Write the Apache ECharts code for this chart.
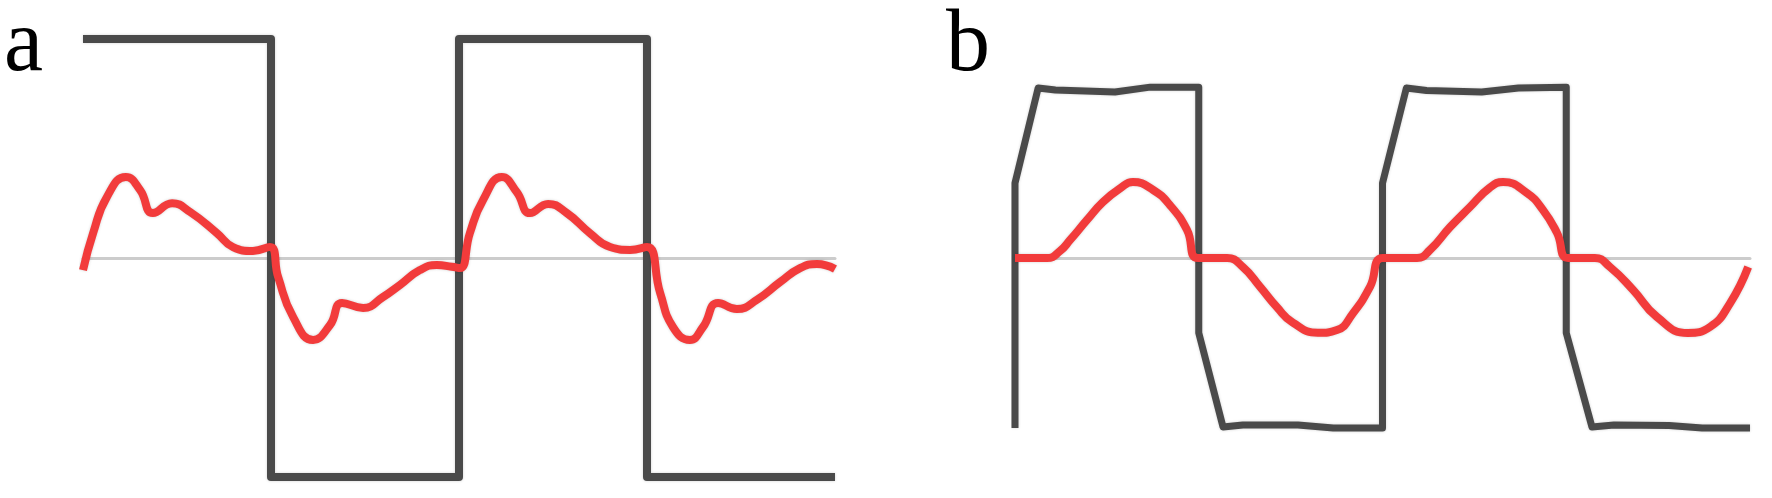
<!DOCTYPE html>
<html>
<head>
<meta charset="utf-8">
<script src="https://cdn.jsdelivr.net/npm/echarts@6/dist/echarts.min.js"></script>
<style>
  html, body { margin: 0; padding: 0; background: #fff; }
  #chart { width: 1772px; height: 498px; }
</style>
</head>
<body>
<div id="chart"></div>
<script>
  // 面板 a：方波电压（单位幅值）与红色响应曲线，x 以周期为单位
  var squareA = [[0, 1], [0.5, 1], [0.5, -1], [1, -1], [1, 1], [1.5, 1], [1.5, -1], [2, -1]];
  var responseA = [
    [0, -0.055], [0.027, 0.114], [0.064, 0.28], [0.114, 0.37], [0.152, 0.31],
    [0.186, 0.205], [0.237, 0.25], [0.285, 0.21], [0.356, 0.114], [0.399, 0.05],
    [0.452, 0.032], [0.497, 0.05], [0.519, -0.087], [0.559, -0.27], [0.612, -0.374],
    [0.657, -0.306], [0.689, -0.205], [0.745, -0.228], [0.798, -0.178], [0.843, -0.123],
    [0.896, -0.055], [0.941, -0.032], [0.981, -0.04], [1.003, -0.046], [1.029, 0.114],
    [1.064, 0.265], [1.114, 0.37], [1.154, 0.30], [1.189, 0.205], [1.237, 0.247],
    [1.287, 0.205], [1.348, 0.114], [1.402, 0.05], [1.455, 0.037], [1.5, 0.05],
    [1.535, -0.16], [1.569, -0.315], [1.614, -0.374], [1.649, -0.315], [1.689, -0.205],
    [1.739, -0.233], [1.793, -0.19], [1.854, -0.11], [1.907, -0.046], [1.952, -0.027],
    [2.0, -0.05]
  ];

  // 面板 b：带斜边的方波与延迟的正弦状响应
  var squareB = [
    [0, -1], [0, 0.44], [0.063, 1], [0.11, 0.988], [0.272, 0.976], [0.368, 1.005], [0.5, 1.005],
    [0.5, -0.44], [0.566, -0.994], [0.62, -0.982], [0.77, -0.982], [0.866, -1.0], [1.0, -1.0],
    [1.0, 0.44], [1.065, 1], [1.12, 0.985], [1.27, 0.976], [1.37, 1.0], [1.5, 1.005],
    [1.5, -0.44], [1.57, -0.994], [1.63, -0.982], [1.78, -0.985], [1.87, -1.0], [2.0, -1.0]
  ];
  var responseB = [
    [0, 0], [0.087, 0], [0.122, 0.04], [0.150, 0.106], [0.196, 0.224], [0.239, 0.329],
    [0.286, 0.41], [0.321, 0.447], [0.376, 0.40], [0.422, 0.31], [0.468, 0.165], [0.498, 0],
    [0.577, 0], [0.620, -0.053], [0.667, -0.17], [0.713, -0.29], [0.756, -0.38],
    [0.824, -0.44], [0.876, -0.424], [0.920, -0.324], [0.966, -0.17], [1.001, 0],
    [1.094, 0], [1.129, 0.047], [1.184, 0.182], [1.238, 0.30], [1.290, 0.41], [1.328, 0.447],
    [1.393, 0.382], [1.437, 0.282], [1.475, 0.147], [1.505, 0], [1.578, 0],
    [1.619, -0.053], [1.682, -0.188], [1.747, -0.347], [1.831, -0.441], [1.891, -0.406],
    [1.946, -0.265], [1.995, -0.053]
  ];

  var chart = echarts.init(document.getElementById('chart'));

  function xAxisOf(idx) {
    return {
      type: 'value', gridIndex: idx, min: 0, max: 2,
      axisLine: { show: true, onZero: true, lineStyle: { color: '#cccccc', width: 3 } },
      axisTick: { show: false }, axisLabel: { show: false }, splitLine: { show: false }
    };
  }
  function yAxisOf(idx) {
    return { type: 'value', gridIndex: idx, min: -1, max: 1, show: false, splitLine: { show: false } };
  }
  function lineOf(idx, data, color, width, smooth, z) {
    return {
      type: 'line', xAxisIndex: idx, yAxisIndex: idx, data: data,
      showSymbol: false, smooth: smooth, smoothMonotone: 'none', clip: false, z: z,
      lineStyle: {
        color: color, width: width, join: 'round', cap: 'butt',
        shadowColor: 'rgba(0,0,0,0.18)', shadowBlur: 3
      }
    };
  }

  var option = {
    animation: false,
    backgroundColor: '#ffffff',
    title: [
      { text: 'a', left: 4, top: 3, padding: 0,
        textStyle: { fontSize: 88, fontFamily: 'Liberation Serif', fontWeight: 'normal', color: '#000' } },
      { text: 'b', left: 946, top: 3, padding: 0,
        textStyle: { fontSize: 88, fontFamily: 'Liberation Serif', fontWeight: 'normal', color: '#000' } }
    ],
    grid: [
      { left: 83, top: 39, width: 752, height: 438 },
      { left: 1015, top: 88, width: 735, height: 340 }
    ],
    xAxis: [xAxisOf(0), xAxisOf(1)],
    yAxis: [yAxisOf(0), yAxisOf(1)],
    series: [
      lineOf(0, squareA, '#4a4a4a', 8, false, 2),
      lineOf(0, responseA, '#f23b3b', 8, 0.5, 3),
      lineOf(1, squareB, '#4a4a4a', 7, false, 2),
      lineOf(1, responseB, '#f23b3b', 8, 0.5, 3)
    ]
  };

  chart.setOption(option);
  window.onresize = chart.resize;
</script>
</body>
</html>
